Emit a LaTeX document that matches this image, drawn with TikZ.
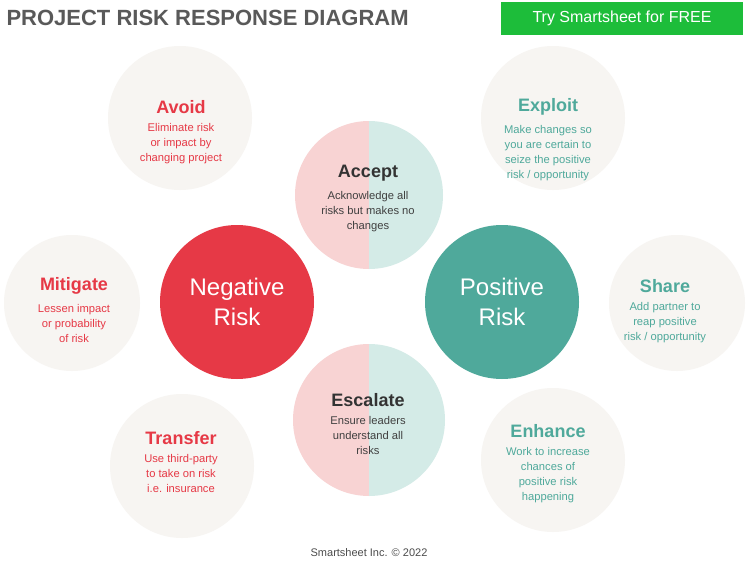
\documentclass[tikz,border=0pt]{standalone}
\usepackage{fontspec}
\setmainfont{Liberation Sans}
\usetikzlibrary{positioning}
\definecolor{negred}{HTML}{E63946}
\definecolor{posteal}{HTML}{4FA99B}
\definecolor{pinkhalf}{HTML}{F8D3D3}
\definecolor{tealhalf}{HTML}{D4EBE7}
\definecolor{softgray}{HTML}{F7F5F2}
\definecolor{btngreen}{HTML}{1DBD3A}
\definecolor{titlegray}{HTML}{595959}
\tikzset{
	bgCircle/.style={circle,fill=softgray,inner sep=0pt},
	riskCircle/.style={circle,inner sep=0pt,minimum size=154pt,text=white,font=\fontsize{24}{30}\selectfont,align=center},
	headText/.style={font=\fontsize{18}{20}\selectfont\bfseries,align=center},
	bodyText/.style={font=\fontsize{11.2}{15}\selectfont,align=center}
}
\begin{document}
\begin{tikzpicture}[x=1pt,y=-1pt]
        \useasboundingbox[fill=white] (0,0) rectangle (747,562);

        % background circles
        \node[bgCircle, minimum size=144pt] (cAvoid) at (180, 118) {};
        \node[bgCircle, minimum size=144pt] (cExploit) at (553, 118) {};
        \node[bgCircle, minimum size=136pt] (cMitigate) at (72, 303) {};
        \node[bgCircle, minimum size=136pt] (cShare) at (677, 303) {};
        \node[bgCircle, minimum size=144pt] (cTransfer) at (182, 466) {};
        \node[bgCircle, minimum size=144pt] (cEnhance) at (553, 460) {};

        % split circles
        \fill[pinkhalf] (369, 121) arc[start angle=-90, end angle=-270, radius=74] -- cycle;
        \fill[tealhalf] (369, 121) arc[start angle=-90, end angle=90, radius=74] -- cycle;
        \fill[pinkhalf] (369, 344) arc[start angle=-90, end angle=-270, radius=76] -- cycle;
        \fill[tealhalf] (369, 344) arc[start angle=-90, end angle=90, radius=76] -- cycle;

        % risk circles
        \node[riskCircle, fill=negred] (negRisk) at (237, 302) {Negative\\Risk};
        \node[riskCircle, fill=posteal] (posRisk) at (502, 302) {Positive\\Risk};

        % texts
        \node[headText, text=negred] (tAvoid) at (181, 107) {Avoid};
        \node[bodyText, text=negred, below=3pt of tAvoid] {Eliminate risk\\or impact by\\changing project};
        \node[headText, text=posteal] (tExploit) at (548, 107) {Exploit};
        \node[bodyText, text=posteal, below=3pt of tExploit] {Make changes so\\you are certain to\\seize the positive\\risk / opportunity};
        \node[headText, text=negred] (tMitigate) at (74, 286) {Mitigate};
        \node[bodyText, text=negred, below=3pt of tMitigate] {Lessen impact\\or probability\\of risk};
        \node[headText, text=posteal] (tShare) at (665, 286) {Share};
        \node[bodyText, text=posteal, below=3pt of tShare] {Add partner to\\reap positive\\risk / opportunity};
        \node[headText, text=negred] (tTransfer) at (181, 438) {Transfer};
        \node[bodyText, text=negred, below=3pt of tTransfer] {Use third-party\\to take on risk\\i.e. insurance};
        \node[headText, text=posteal] (tEnhance) at (548, 431) {Enhance};
        \node[bodyText, text=posteal, below=3pt of tEnhance] {Work to increase\\chances of\\positive risk\\happening};
        \node[headText, text=black!80] (tAccept) at (368, 173) {Accept};
        \node[bodyText, text=black!75, below=3pt of tAccept] {Acknowledge all\\risks but makes no\\changes};
        \node[headText, text=black!80] (tEscalate) at (368, 400) {Escalate};
        \node[bodyText, text=black!75, below=3pt of tEscalate] {Ensure leaders\\understand all\\risks};

        % header and footer
        \node[anchor=west, text=titlegray, font=\fontsize{22}{25}\selectfont\bfseries] (title) at (3, 18) {PROJECT RISK RESPONSE DIAGRAM};
        \node[fill=btngreen, text=white, minimum width=242pt, minimum height=33pt, font=\fontsize{16}{18}\selectfont] (btn) at (622, 18.5) {Try Smartsheet for FREE};
        \node[text=black!70, font=\fontsize{11}{13}\selectfont] (footer) at (369, 553) {Smartsheet Inc. © 2022};
\end{tikzpicture}
\end{document}
